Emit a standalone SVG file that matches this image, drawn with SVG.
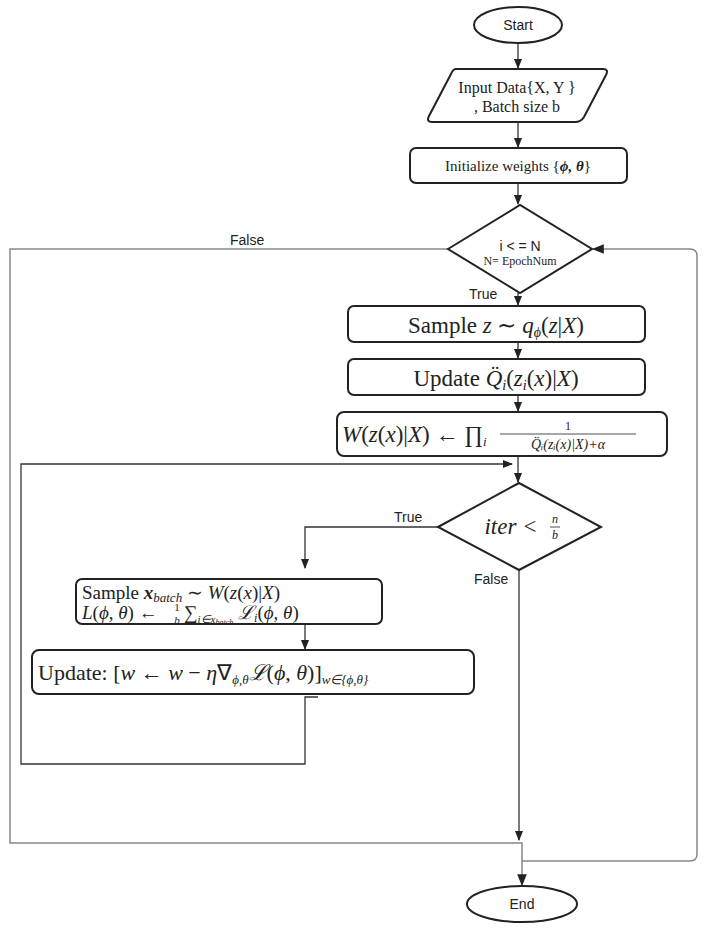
<svg xmlns="http://www.w3.org/2000/svg" width="708" height="931" viewBox="0 0 708 931">
<style>
.s{fill:#fff;stroke:#222;stroke-width:2}
.c{fill:none;stroke:#333;stroke-width:1.3}
.g{fill:none;stroke:#888;stroke-width:1.5}
.t{font-family:"Liberation Serif",serif;fill:#222}
.a{font-family:"Liberation Sans",sans-serif;fill:#222}
.i{font-style:italic}
</style>
<defs><marker id="ar" viewBox="0 0 10 10" refX="9" refY="5" markerWidth="8" markerHeight="8" orient="auto"><path d="M0,1 L10,5 L0,9 Z" fill="#222"/></marker></defs>
<rect width="708" height="931" fill="#fff"/>
<g id="connectors">
<line class="c" x1="518" y1="43" x2="518" y2="68" marker-end="url(#ar)"/>
<line class="c" x1="518" y1="122" x2="518" y2="147" marker-end="url(#ar)"/>
<line class="c" x1="518" y1="183" x2="518" y2="204" marker-end="url(#ar)"/>
<line class="c" x1="518" y1="293" x2="518" y2="305" marker-end="url(#ar)"/>
<line class="c" x1="518" y1="342" x2="518" y2="358" marker-end="url(#ar)"/>
<line class="c" x1="518" y1="395" x2="518" y2="411" marker-end="url(#ar)"/>
<line class="c" x1="518" y1="456" x2="518" y2="482" marker-end="url(#ar)"/>
<polyline class="c" points="438,527 305,527 305,568" marker-end="url(#ar)"/>
<line class="c" x1="305" y1="625" x2="305" y2="649" marker-end="url(#ar)"/>
<polyline class="c" points="318,697 305,697 305,764 21,764 21,464 512,464" marker-end="url(#ar)"/>
<line class="c" x1="519" y1="570" x2="519" y2="840" marker-end="url(#ar)"/>
<polyline class="g" points="448,249 10,249 10,843 522,843 522,885" marker-end="url(#ar)"/>
<path class="g" d="M522,861 H690 Q697,861 697,854 V256 Q697,249 690,249 H593" marker-end="url(#ar)"/>
<text class="a" x="230" y="245" font-size="14">False</text>
<text class="a" x="469" y="299" font-size="14">True</text>
<text class="a" x="394" y="522" font-size="14">True</text>
<text class="a" x="474" y="584" font-size="14">False</text>
</g>
<g id="start"><ellipse class="s" cx="518" cy="25" rx="44" ry="18"/><text class="a" x="518" y="30" font-size="14" text-anchor="middle">Start</text></g>
<g id="input"><path class="s" d="M456,69 H603 Q609,69 606,75 L584,117 Q581,122 575,122 H432 Q426,122 429,116 L451,74 Q453,69 456,69 Z"/>
<text class="t" x="517" y="93" font-size="16" text-anchor="middle">Input Data{X, Y }</text>
<text class="t" x="517" y="112" font-size="16" text-anchor="middle">, Batch size b</text></g>
<g id="init"><rect class="s" x="410" y="148" width="217" height="35" rx="6"/><text class="t" x="518" y="171" font-size="15" text-anchor="middle">Initialize weights {<tspan class="i" font-weight="bold">ϕ, θ</tspan>}</text></g>
<g id="epoch"><polygon class="s" points="448,249 520,205 592,249 520,293"/>
<text class="a" x="520" y="251" font-size="14" text-anchor="middle">i &lt; = N</text>
<text class="t" x="520" y="265" font-size="12" text-anchor="middle">N= EpochNum</text></g>
<g id="samplez"><rect class="s" x="348" y="306" width="297" height="36" rx="6"/><text class="t" x="496" y="333" font-size="23" text-anchor="middle">Sample <tspan class="i">z</tspan> ∼ <tspan class="i">q</tspan><tspan class="i" font-size="14" dy="4">ϕ</tspan><tspan dy="-4">(</tspan><tspan class="i">z</tspan>|<tspan class="i">X</tspan>)</text></g>
<g id="updateq"><rect class="s" x="348" y="359" width="297" height="36" rx="6"/><text class="t" x="496" y="386" font-size="23" text-anchor="middle">Update <tspan class="i">Q̈</tspan><tspan class="i" font-size="14" dy="4">i</tspan><tspan dy="-4">(</tspan><tspan class="i">z</tspan><tspan class="i" font-size="14" dy="4">i</tspan><tspan dy="-4">(</tspan><tspan class="i">x</tspan>)|<tspan class="i">X</tspan>)</text></g>
<g id="weights"><rect class="s" x="337" y="412" width="330" height="44" rx="7"/>
<text class="t" x="342" y="442" font-size="23"><tspan class="i">W</tspan>(<tspan class="i">z</tspan>(<tspan class="i">x</tspan>)|<tspan class="i">X</tspan>) ← ∏<tspan class="i" font-size="13" dy="4">i</tspan></text>
<text class="t" x="568" y="430" font-size="12" text-anchor="middle">1</text>
<line x1="500" y1="434" x2="636" y2="434" stroke="#222" stroke-width="0.8"/>
<text class="t i" x="568" y="449" font-size="14" text-anchor="middle">Q̈ᵢ(zᵢ(x)|X)+α</text></g>
<g id="iter"><polygon class="s" points="438,527 519,483 601,527 519,570"/>
<text class="t i" x="511" y="534" font-size="23" text-anchor="middle">iter &lt;</text>
<text class="t i" x="555" y="523" font-size="12" text-anchor="middle">n</text>
<line x1="550" y1="527" x2="560" y2="527" stroke="#222" stroke-width="0.8"/>
<text class="t i" x="555" y="539" font-size="12" text-anchor="middle">b</text></g>
<g id="samplex"><rect class="s" x="76" y="579" width="306" height="45" rx="6"/>
<text class="t" x="82" y="599" font-size="19">Sample <tspan class="i" font-weight="bold">x</tspan><tspan class="i" font-size="13" dy="3">batch</tspan><tspan dy="-3"> ∼ </tspan><tspan class="i">W</tspan>(<tspan class="i">z</tspan>(<tspan class="i">x</tspan>)|<tspan class="i">X</tspan>)</text>
<text class="t" x="82" y="619" font-size="19"><tspan class="i">L</tspan>(<tspan class="i">ϕ</tspan>, <tspan class="i">θ</tspan>) ←</text>
<text class="t" x="177" y="611" font-size="11" text-anchor="middle">1</text>
<text class="t i" x="177" y="624" font-size="11" text-anchor="middle">b</text>
<text class="t" x="184" y="619" font-size="19">∑<tspan class="i" font-size="11" dy="4">i∈x</tspan><tspan class="i" font-size="8" dy="2">batch</tspan><tspan dy="-6"> </tspan><tspan class="i">ℒ</tspan><tspan class="i" font-size="12" dy="3">i</tspan><tspan dy="-3">(</tspan><tspan class="i">ϕ</tspan>, <tspan class="i">θ</tspan>)</text></g>
<g id="update"><rect class="s" x="32" y="650" width="442" height="44" rx="7"/>
<text class="t" x="38" y="680" font-size="22">Update: [<tspan class="i">w</tspan> ← <tspan class="i">w</tspan> − <tspan class="i">η</tspan>∇<tspan class="i" font-size="13" dy="4">ϕ,θ</tspan><tspan class="i" dy="-4">ℒ</tspan>(<tspan class="i">ϕ</tspan>, <tspan class="i">θ</tspan>)]<tspan class="i" font-size="13" dy="4">w∈{ϕ,θ}</tspan></text></g>
<g id="end"><ellipse class="s" cx="522" cy="904" rx="55" ry="18"/><text class="a" x="522" y="909" font-size="14" text-anchor="middle">End</text></g>
</svg>
